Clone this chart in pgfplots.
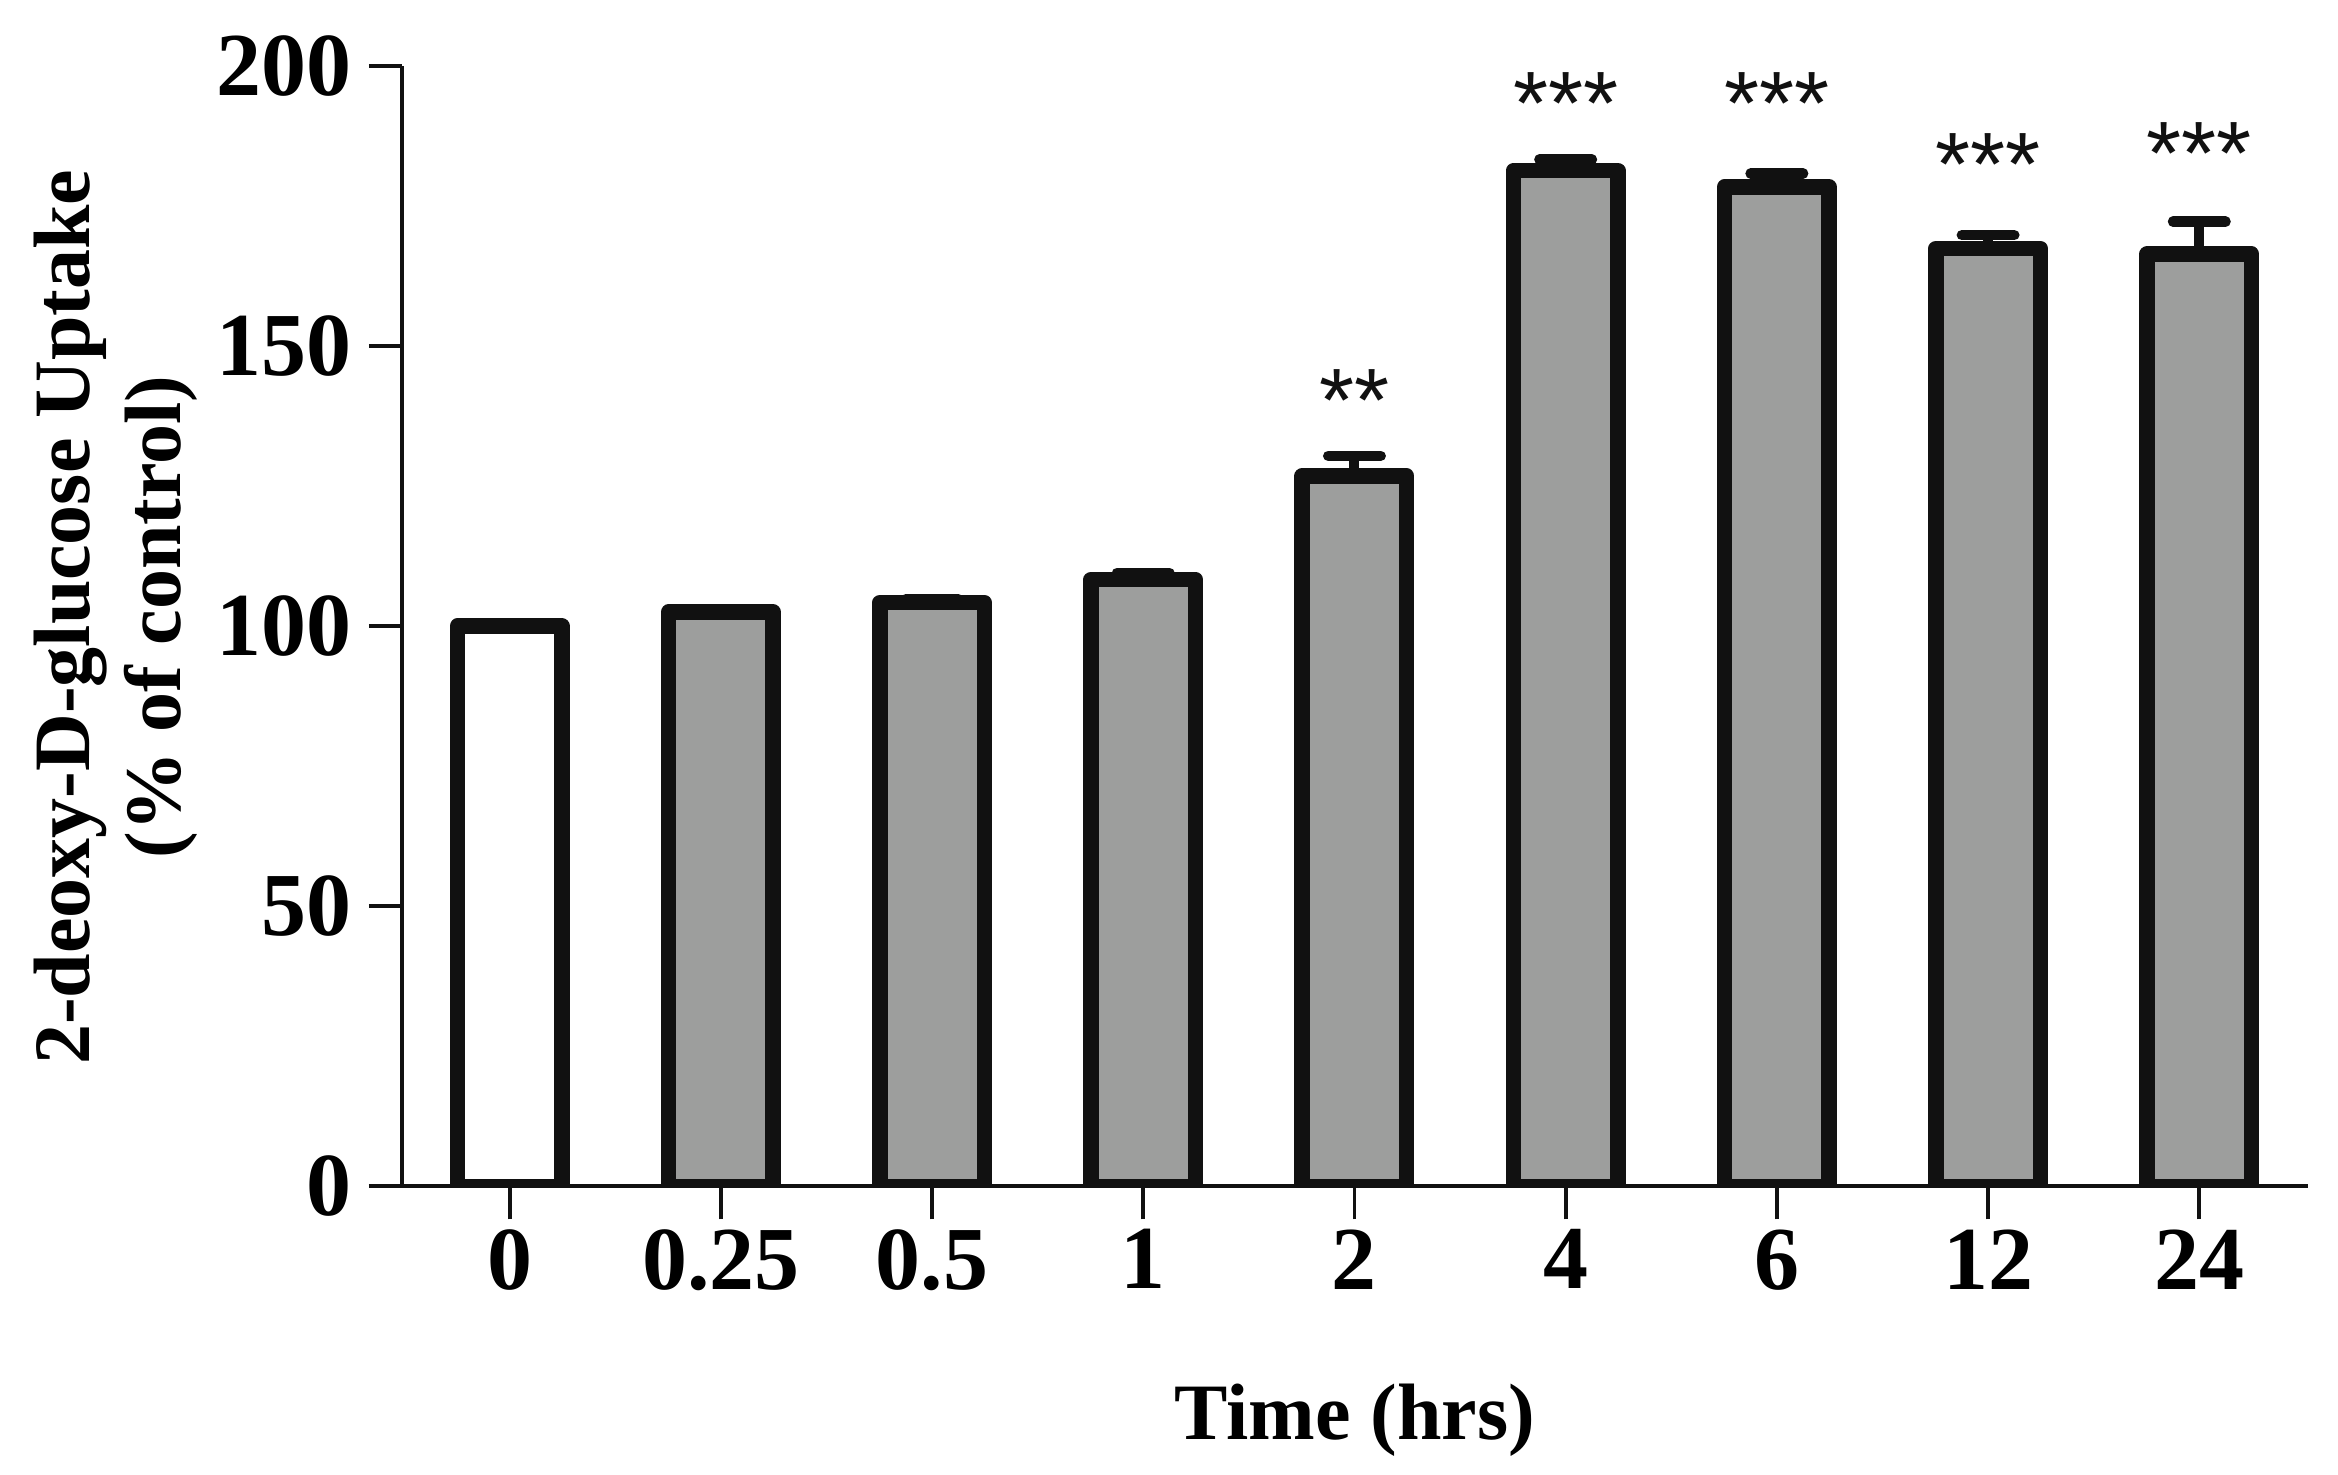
\documentclass[border=0pt]{standalone}
\usepackage{fontspec}
\setmainfont{Liberation Serif}
\newfontfamily\starfont{Liberation Sans}
\usepackage{pgfplots}
\usepackage{pgfplotstable}
\pgfplotsset{compat=1.18}
\definecolor{barfill}{HTML}{9D9E9D}
\definecolor{ink}{HTML}{111111}

\pgfplotstableread{
x y err
1 102.5 0.5
2 104.2 0.6
3 108.3 1.2
4 126.8 3.6
5 181.3 2.0
6 178.4 2.4
7 167.4 2.4
8 166.4 5.8
}\treated

\pgfplotstableread{
x y lab
4 144.0 **
5 197.0 ***
6 197.0 ***
7 186.0 ***
8 188.0 ***
}\stars

\begin{document}
\begin{tikzpicture}
\useasboundingbox (-80.4pt,-57.6pt) rectangle (387.3pt,237.3pt);
\begin{axis}[
  scale only axis, width=381.3pt, height=224.1pt,
  xmin=-0.51, xmax=8.515, ymin=0, ymax=200,
  axis x line=bottom, axis y line=left,
  axis line style={-, line width=0.8pt, ink},
  x axis line style={shorten <=-6.6pt},
  tick align=outside,
  xtick={0,1,2,3,4,5,6,7,8},
  xticklabels={0,0.25,0.5,1,2,4,6,12,24},
  ytick={0,50,100,150,200},
  yticklabels={0,50,100,150,200},
  major tick length=6.6pt,
  tick style={line width=0.75pt, ink},
  ticklabel style={font=\fontsize{18}{18}\selectfont\bfseries},
  xticklabel style={yshift=1.5pt},
  xlabel={Time (hrs)},
  ylabel={2-deoxy-D-glucose Uptake\\(\% of control)},
  label style={font=\fontsize{16}{18.3}\selectfont\bfseries},
  xlabel style={at={(axis description cs:0.5,-0.226)}, anchor=base, inner sep=0pt},
  ylabel style={at={(axis description cs:-0.1065,0.508)}, anchor=south, align=center, inner sep=0pt},
]
\addplot[ybar, bar width=20.9pt, bar shift=0pt, fill=white, draw=ink, line width=3.1pt, line join=round]
  coordinates {(0,100)};
\addplot[ybar, bar width=20.9pt, bar shift=0pt, fill=barfill, draw=ink, line width=3.1pt, line join=round,
  error bars/.cd, y dir=plus, y explicit,
  error mark=|,
  error bar style={line width=2pt, ink},
  error mark options={line width=2.1pt, mark size=5.25pt, ink, line cap=round}]
  table[x=x, y=y, y error=err] {\treated};
\addplot[draw=none, mark=none, nodes near coords, point meta=explicit symbolic,
  every node near coord/.append style={font=\starfont\fontsize{18}{18}\selectfont, anchor=base, yshift=-10.3pt, inner sep=0pt, text=ink}]
  table[x=x, y=y, meta=lab] {\stars};
\end{axis}
\end{tikzpicture}
\end{document}
